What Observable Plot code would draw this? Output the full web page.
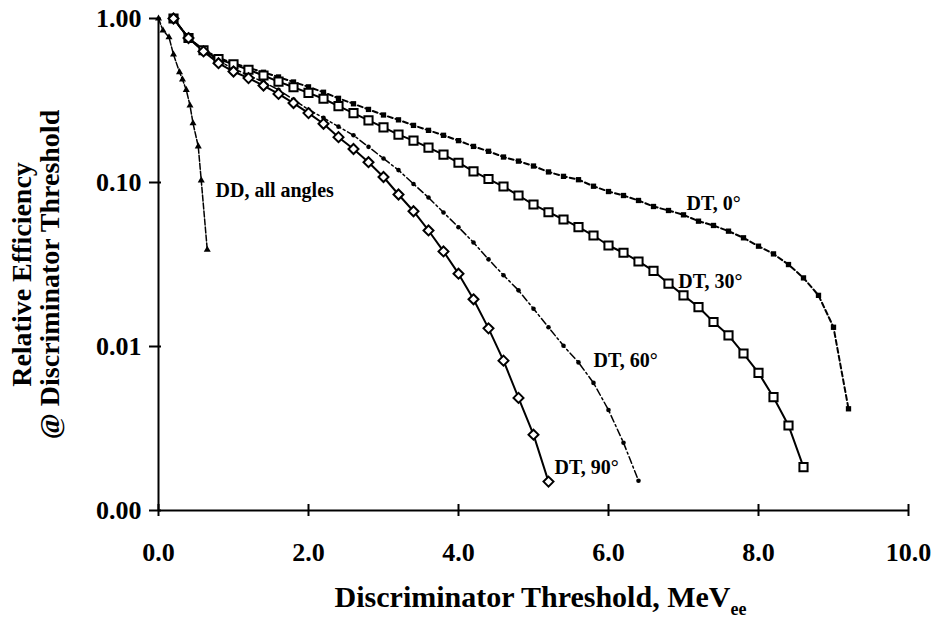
<!DOCTYPE html>
<html><head><meta charset="utf-8">
<script src="https://cdn.jsdelivr.net/npm/d3@7"></script>
<script src="https://cdn.jsdelivr.net/npm/@observablehq/plot@0.6"></script>
<style>body{margin:0;background:#fff}</style>
</head><body><div id="chart"></div>
<script>
// DT, 0 degrees (filled squares, dashed)
const xDT0 = [0.2,0.4,0.6,0.8,1.0,1.2,1.4,1.6,1.8,2.0,2.2,2.4,2.6,2.8,3.0,3.2,3.4,3.6,3.8,4.0,4.2,4.4,4.6,4.8,5.0,5.2,5.4,5.6,5.8,6.0,6.2,6.4,6.6,6.8,7.0,7.2,7.4,7.6,7.8,8.0,8.2,8.4,8.6,8.8,9.0,9.2];
const yDT0 = [1.0,0.76,0.645,0.575,0.535,0.50,0.47,0.44,0.41,0.383,0.355,0.326,0.302,0.279,0.258,0.241,0.223,0.208,0.194,0.180,0.166,0.155,0.143,0.135,0.126,0.116,0.109,0.104,0.0949,0.0881,0.0833,0.0777,0.0714,0.0675,0.0635,0.0581,0.0547,0.0505,0.0460,0.0409,0.0367,0.0316,0.0262,0.0205,0.0131,0.00417];
// DT, 30 degrees (open squares, solid)
const xDT30 = [0.2,0.4,0.6,0.8,1.0,1.2,1.4,1.6,1.8,2.0,2.2,2.4,2.6,2.8,3.0,3.2,3.4,3.6,3.8,4.0,4.2,4.4,4.6,4.8,5.0,5.2,5.4,5.6,5.8,6.0,6.2,6.4,6.6,6.8,7.0,7.2,7.4,7.6,7.8,8.0,8.2,8.4,8.6];
const yDT30 = [1.0,0.76,0.64,0.565,0.525,0.487,0.449,0.412,0.381,0.352,0.324,0.292,0.265,0.239,0.217,0.196,0.180,0.163,0.148,0.132,0.117,0.105,0.0945,0.0833,0.0734,0.0659,0.0595,0.0534,0.0475,0.0413,0.0373,0.0330,0.0289,0.0242,0.0205,0.0174,0.0141,0.0117,0.00906,0.00691,0.00491,0.00330,0.00184];
// DT, 60 degrees (small dots, dash-dot)
const xDT60 = [0.2,0.4,0.6,0.8,1.0,1.2,1.4,1.6,1.8,2.0,2.2,2.4,2.6,2.8,3.0,3.2,3.4,3.6,3.8,4.0,4.2,4.4,4.6,4.8,5.0,5.2,5.4,5.6,5.8,6.0,6.2,6.4];
const yDT60 = [1.0,0.76,0.635,0.55,0.495,0.45,0.41,0.367,0.32,0.278,0.248,0.219,0.194,0.165,0.140,0.119,0.098,0.081,0.0656,0.0534,0.0431,0.034,0.0272,0.0220,0.0170,0.0131,0.0101,0.0080,0.0060,0.0041,0.00259,0.00152];
// DT, 90 degrees (open diamonds, solid)
const xDT90 = [0.2,0.4,0.6,0.8,1.0,1.2,1.4,1.6,1.8,2.0,2.2,2.4,2.6,2.8,3.0,3.2,3.4,3.6,3.8,4.0,4.2,4.4,4.6,4.8,5.0,5.2];
const yDT90 = [1.0,0.76,0.63,0.534,0.475,0.433,0.390,0.347,0.305,0.265,0.228,0.189,0.160,0.133,0.108,0.0845,0.0668,0.051,0.038,0.0278,0.0194,0.0129,0.0082,0.00486,0.0029,0.0015];
// DD, all angles (triangles)
const xDD = [0.0,0.06,0.14,0.20,0.28,0.32,0.37,0.42,0.46,0.53,0.57,0.65];
const yDD = [1.0,0.845,0.769,0.603,0.471,0.425,0.367,0.295,0.230,0.166,0.103,0.0389];

const labelText = ["DD, all angles","DT, 0°","DT, 30°","DT, 60°","DT, 90°"];
const labelX = [0.76,7.04,6.93,5.80,5.28];
const labelY = [0.0893,0.0745,0.0249,0.00822,0.00183];

const xTicks = [0,2,4,6,8,10];
const yTicks = [0.001,0.01,0.1,1];

const toRows = (xs, ys) => xs.map((x, i) => ({x, y: ys[i]}));
const dt0 = toRows(xDT0, yDT0), dt30 = toRows(xDT30, yDT30), dt60 = toRows(xDT60, yDT60), dt90 = toRows(xDT90, yDT90), dd = toRows(xDD, yDD);
const labels = labelText.map((t, i) => ({t, x: labelX[i], y: labelY[i]}));

const font = "'Liberation Serif', 'Times New Roman', serif";

const chart = Plot.plot({
  width: 931, height: 621,
  marginLeft: 158, marginRight: 23, marginTop: 18, marginBottom: 111,
  style: {fontFamily: font, background: "white", color: "black", overflow: "visible"},
  x: {domain: [0, 10]},
  y: {type: "log", domain: [0.001, 1]},
  marks: [
    Plot.ruleX([0], {y1: 0.001, y2: 1, strokeWidth: 2}),
    Plot.ruleY([0.001], {x1: 0, x2: 10, strokeWidth: 2}),
    Plot.axisX({ticks: xTicks, tickSize: 12, dy: -6, tickFormat: () => "", strokeWidth: 2, label: null}),
    Plot.axisX({ticks: xTicks, tickSize: 0, tickPadding: 32, tickFormat: d3.format(".1f"), fontSize: 26, fontWeight: "bold", label: null}),
    Plot.axisY({ticks: yTicks, tickSize: 12, dx: 3, tickFormat: () => "", strokeWidth: 2, label: null}),
    Plot.axisY({ticks: yTicks, tickSize: 0, tickPadding: 17, tickFormat: d3.format(".2f"), fontSize: 26, fontWeight: "bold", label: null}),

    Plot.line(dt0, {x: "x", y: "y", stroke: "black", strokeWidth: 2, strokeDasharray: "5,3"}),
    Plot.line(dt30, {x: "x", y: "y", stroke: "black", strokeWidth: 2}),
    Plot.line(dt60, {x: "x", y: "y", stroke: "black", strokeWidth: 1.5, strokeDasharray: "7,3,2,3"}),
    Plot.line(dt90, {x: "x", y: "y", stroke: "black", strokeWidth: 2}),
    Plot.line(dd, {x: "x", y: "y", stroke: "black", strokeWidth: 1.5, strokeDasharray: "6,2"}),

    Plot.dot(dt0, {x: "x", y: "y", symbol: "square", r: 3, fill: "black"}),
    Plot.dot(dt30, {x: "x", y: "y", symbol: "square", r: 4.6, fill: "white", stroke: "black", strokeWidth: 2}),
    Plot.dot(dt60, {x: "x", y: "y", r: 2.3, fill: "black"}),
    Plot.dot(dt90, {x: "x", y: "y", symbol: "diamond2", r: 4.5, fill: "white", stroke: "black", strokeWidth: 2}),
    Plot.dot(dd, {x: "x", y: "y", symbol: "triangle", r: 2.6, fill: "black"}),

    Plot.text(labels, {x: "x", y: "y", text: "t", textAnchor: "start", fontSize: 20, fontWeight: "bold"}),

    Plot.text(["Relative Efficiency"], {text: d => d, frameAnchor: "left", rotate: -90, dx: -136, dy: 10, textAnchor: "middle", lineAnchor: "middle", fontSize: 28, fontWeight: "bold"}),
    Plot.text(["@ Discriminator Threshold"], {text: d => d, frameAnchor: "left", rotate: -90, dx: -108, dy: 10, textAnchor: "middle", lineAnchor: "middle", fontSize: 28, fontWeight: "bold"}),
    Plot.text(["Discriminator Threshold, MeV"], {text: d => d, frameAnchor: "bottom", dy: 87, dx: 7, textAnchor: "middle", lineAnchor: "middle", fontSize: 30, fontWeight: "bold"})
  ]
});

d3.select(chart).selectAll("text").filter(function() { return this.textContent === "Discriminator Threshold, MeV"; })
  .append("tspan").attr("font-size", 18).attr("dy", "0.45em").text("ee");

document.getElementById("chart").appendChild(chart);
</script>
</body></html>
